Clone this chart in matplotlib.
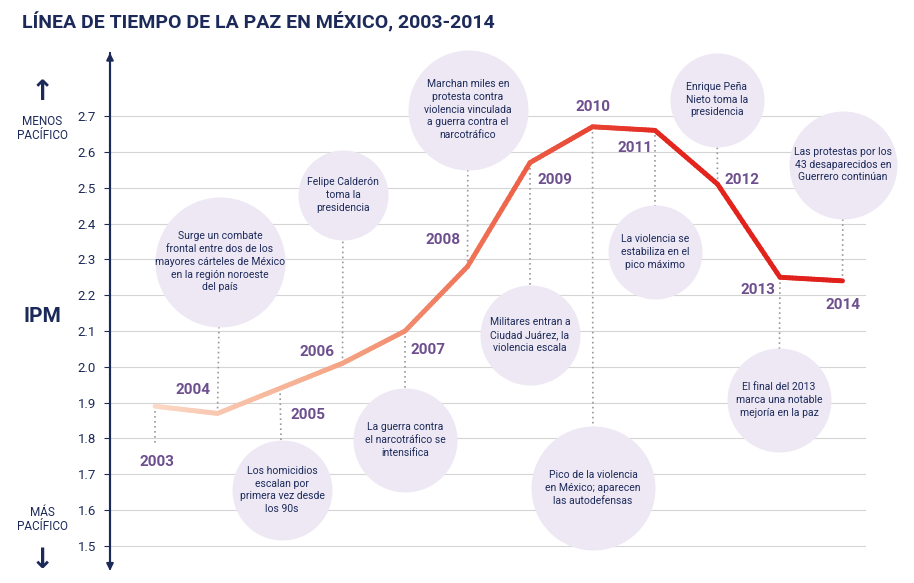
import matplotlib
matplotlib.use("Agg")
import matplotlib.pyplot as plt
import numpy as np
from matplotlib.collections import LineCollection
from matplotlib.colors import LinearSegmentedColormap

years = list(range(2003, 2015))
ipm = [1.89, 1.87, 1.94, 2.01, 2.10, 2.28, 2.57, 2.67, 2.66, 2.51, 2.25, 2.24]
yticks = [1.5, 1.6, 1.7, 1.8, 1.9, 2.0, 2.1, 2.2, 2.3, 2.4, 2.5, 2.6, 2.7]
events = {
    2004: "Surge un combate\nfrontal entre dos de los\nmayores cárteles de México\nen la región noroeste\ndel país",
    2005: "Los homicidios\nescalan por\nprimera vez desde\nlos 90s",
    2006: "Felipe Calderón\ntoma la\npresidencia",
    2007: "La guerra contra\nel narcotráfico se\nintensifica",
    2008: "Marchan miles en\nprotesta contra\nviolencia vinculada\na guerra contra el\nnarcotráfico",
    2009: "Militares entran a\nCiudad Juárez, la\nviolencia escala",
    2010: "Pico de la violencia\nen México; aparecen\nlas autodefensas",
    2011: "La violencia se\nestabiliza en el\npico máximo",
    2012: "Enrique Peña\nNieto toma la\npresidencia",
    2013: "El final del 2013\nmarca una notable\nmejoría en la paz",
    2014: "Las protestas por los\n43 desaparecidos en\nGuerrero continúan",
}

# layout (pixel positions of bubbles and year labels)
bubble_px = {2004: (220, 262, 65), 2005: (282, 490, 50), 2006: (343, 195, 45),
             2007: (405, 440, 52), 2008: (468, 110, 60), 2009: (530, 335, 50),
             2010: (593, 488, 62), 2011: (655, 252, 47), 2012: (717, 100, 47),
             2013: (779, 400, 52), 2014: (843, 165, 54)}
label_px = {2003: (157, 462), 2004: (193, 390), 2005: (308, 415), 2006: (317, 352),
            2007: (428, 350), 2008: (443, 240), 2009: (555, 180), 2010: (593, 107),
            2011: (635, 148), 2012: (742, 180), 2013: (758, 290), 2014: (843, 305)}

plt.rcParams['font.family'] = ['Roboto', 'DejaVu Sans']
W, H = 914, 583
fig = plt.figure(figsize=(W/100, H/100), dpi=100)
navy = "#1c2a5a"
purple = "#6d4f8e"

x0, x1 = 2003 - 45/62.5, 2003 + 715/62.5
y0, y1 = 1.5 - 24/358, 2.7 + 66/358
ax = fig.add_axes([110/W, 13/H, 760/W, 520/H])
ax.set_xlim(x0, x1); ax.set_ylim(y0, y1)
for s in ax.spines.values():
    s.set_visible(False)
ax.set_xticks([])
ax.set_yticks(yticks)
ax.set_yticklabels([f"{v:.1f}" for v in yticks], color=navy, fontsize=9.5)
ax.tick_params(axis='y', length=4, color=navy, pad=6)
for v in yticks:
    ax.plot([x0, 2003 + 710/62.5], [v, v], color="#d5d5d5", lw=0.8, zorder=0)
ax.annotate("", xy=(x0, y1), xytext=(x0, y0 - 0.005), arrowprops=dict(arrowstyle="-|>", color=navy, lw=1.5, mutation_scale=10), annotation_clip=False)
ax.annotate("", xy=(x0, y0 - 0.01), xytext=(x0, y1), arrowprops=dict(arrowstyle="-|>", color=navy, lw=1.5, mutation_scale=10), annotation_clip=False)

def px2d(px, py):
    return 2003 + (px - 155)/62.5, 1.5 + (546 - py)/358

# bubbles
for yr, txt in events.items():
    bx, by, r = bubble_px[yr]
    dx, dy = px2d(bx, by)
    yv = ipm[years.index(yr)]
    ax.plot([yr, dx], [yv, dy], color="#999999", lw=1.2, ls=(0, (1, 2)), zorder=1)
    ax.scatter([dx], [dy], s=(1.44*r)**2, color="#ede8f3", zorder=2, linewidths=0, clip_on=False)
    ax.text(dx, dy, txt, ha="center", va="center", fontsize=7.5, color=navy, zorder=3, linespacing=1.35)
lx, ly = px2d(*label_px[2003])
ax.plot([2003, 2003], [ipm[0], ly + 0.05], color="#999999", lw=1.2, ls=(0, (1, 2)), zorder=1)

# gradient line
xs = np.array(years, float); ys = np.array(ipm)
segs = []
cvals = []
n = 20
for i in range(len(xs) - 1):
    for k in range(n):
        t0, t1 = k/n, (k+1)/n
        segs.append([(xs[i] + (xs[i+1]-xs[i])*t0, ys[i] + (ys[i+1]-ys[i])*t0),
                     (xs[i] + (xs[i+1]-xs[i])*t1, ys[i] + (ys[i+1]-ys[i])*t1)])
        cvals.append((i + t0 + 0.5/n) / (len(xs) - 1))
cmap = LinearSegmentedColormap.from_list("g", ["#fbd9c6", "#f5a98a", "#ee6a4e", "#e3261e", "#e0201b"])
lc = LineCollection(segs, colors=cmap(np.array(cvals)), linewidths=3.5, capstyle="round", zorder=4)
ax.add_collection(lc)

for yr, (px, py) in label_px.items():
    dx, dy = px2d(px, py)
    ax.text(dx, dy, str(yr), ha="center", va="center", fontsize=11, fontweight="bold", color=purple, zorder=5)

fig.text(22/W, 1 - 22/H, "LÍNEA DE TIEMPO DE LA PAZ EN MÉXICO, 2003-2014", fontsize=14, fontweight="bold", color=navy, va="center", ha="left")
fig.text(42/W, 1 - 92/H, "↑", fontsize=20, color=navy, ha="center", va="center", fontweight="bold")
fig.text(42/W, 1 - 128/H, "MENOS\nPACÍFICO", fontsize=8.5, color=navy, ha="center", va="center", linespacing=1.1)
fig.text(42/W, 1 - 316/H, "IPM", fontsize=15, color=navy, ha="center", va="center", fontweight="bold")
fig.text(42/W, 1 - 520/H, "MÁS\nPACÍFICO", fontsize=8.5, color=navy, ha="center", va="center", linespacing=1.1)
fig.text(42/W, 1 - 560/H, "↓", fontsize=20, color=navy, ha="center", va="center", fontweight="bold")

fig.savefig("out.png", dpi=100, facecolor="white")
